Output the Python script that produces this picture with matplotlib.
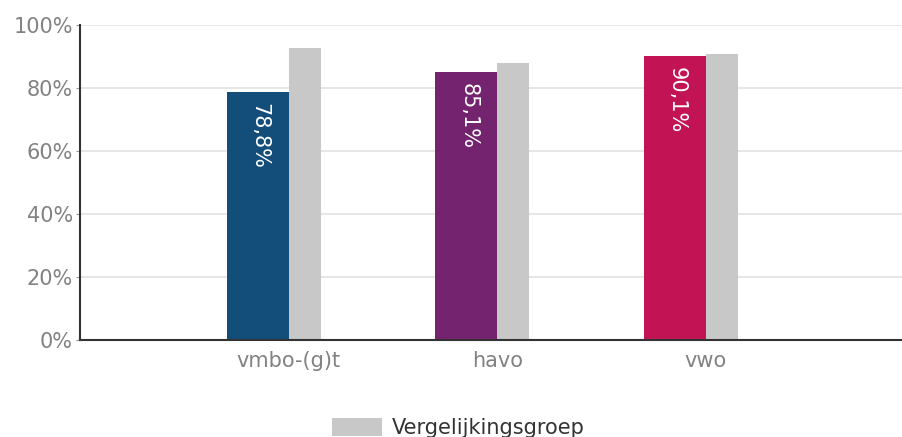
import matplotlib.pyplot as plt
import numpy as np
from matplotlib.patches import Patch

# data
categories = ['vmbo-(g)t', 'havo', 'vwo']
school = [78.8, 85.1, 90.1]
comparison = [92.6, 88.0, 90.7]
school_labels = ['78,8%', '85,1%', '90,1%']
school_colors = ['#134e7b', '#74236e', '#c21454']
legend_label = 'Vergelijkingsgroep'

plt.rcParams['font.family'] = 'DejaVu Sans'

fig = plt.figure(figsize=(9.02, 4.37), dpi=100)
ax = fig.add_axes([0.0887, 0.222, 0.9113, 0.721])

x = np.arange(len(categories))
w_school = 0.297
w_comp = 0.153

bars = ax.bar(x - w_school / 2, school, width=w_school, color=school_colors,
              zorder=2)
ax.bar(x + w_comp / 2, comparison, width=w_comp, color='#c8c8c8', zorder=2)

# value labels inside the coloured bars, reading top to bottom
for b, lab in zip(bars, school_labels):
    ax.annotate(lab, (b.get_x() + b.get_width() / 2 + 0.01, b.get_height()),
                xytext=(0, -8), textcoords='offset points',
                ha='center', va='top', rotation=-90,
                color='white', fontsize=15, zorder=3)

ax.set_xlim(-1.0, 2.94)
ax.set_ylim(0, 100)
ax.set_yticks(np.arange(0, 101, 20))
ax.set_yticklabels([f'{v}%' for v in range(0, 101, 20)])
ax.set_xticks(x)
ax.set_xticklabels(categories)

ax.grid(axis='y', color='#e2e2e2', linewidth=1.2, zorder=0)
ax.tick_params(axis='y', length=3, color='#999999', labelsize=15,
               labelcolor='#828282', pad=2)
ax.tick_params(axis='x', length=0, labelsize=15, labelcolor='#828282', pad=8)

for side in ['top', 'right']:
    ax.spines[side].set_visible(False)
ax.spines['left'].set_color('#333333')
ax.spines['left'].set_linewidth(1.5)
ax.spines['bottom'].set_color('#333333')
ax.spines['bottom'].set_linewidth(1.5)

handle = Patch(facecolor='#c8c8c8', edgecolor='none')
fig.legend([handle], [legend_label], loc='upper center',
           bbox_to_anchor=(0.508, 0.068), frameon=False, fontsize=15,
           handlelength=2.4, handleheight=1.0, handletextpad=0.5,
           borderpad=0, labelcolor='#333333')

fig.savefig('out.png', dpi=100)
